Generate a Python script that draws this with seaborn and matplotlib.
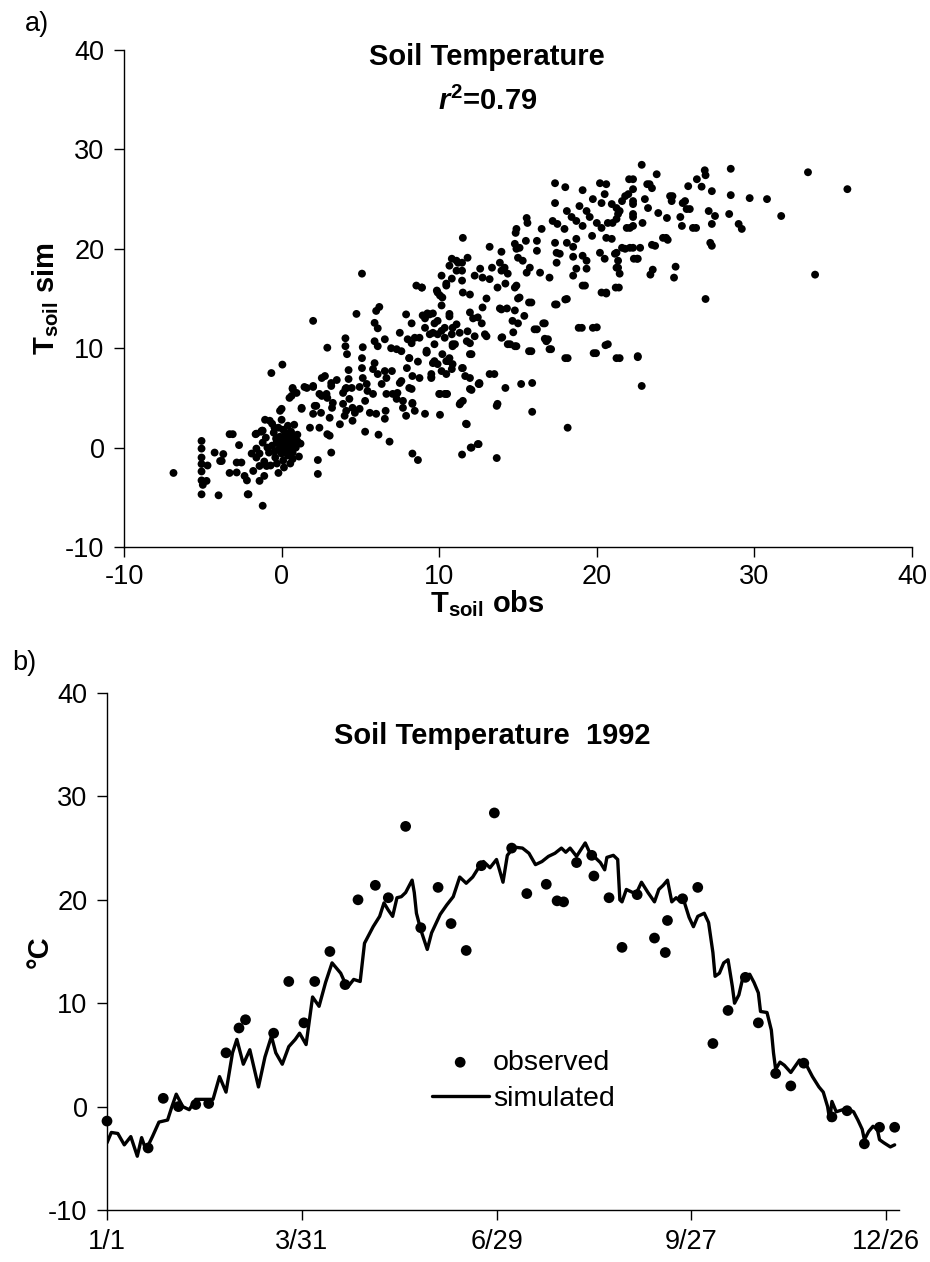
import matplotlib
matplotlib.use("Agg")
import matplotlib.pyplot as plt
import numpy as np
import pandas as pd
import seaborn as sns

# ---------------- Panel a) data: (T_soil obs, T_soil sim) pairs ----------------
pts_low_left = [
    (-6.86, -2.55), (-5.08, 0.67), (-5.08, -0.1), (-5.08, -1.0), (-5.08, -1.65), (-5.08, -2.4),
    (-5.08, -3.3), (-5.0, -3.75), (-5.08, -4.7), (-4.76, -3.35), (-4.7, -1.8), (-4.25, -0.5),
    (-3.9, -1.35), (-3.7, -0.65), (-4.0, -4.8), (-3.3, 1.35), (-2.7, 0.25), (-3.3, -2.55),
    (-2.85, -1.5), (-2.55, -1.5), (-2.85, -2.5), (-2.15, -4.7), (-2.35, -2.85), (-2.2, -3.3),
    (-1.9, -0.6), (-1.65, 1.35), (-1.6, -0.1), (-1.4, -1.85), (-1.4, -3.35), (-1.2, -5.85),
    (-1.8, -2.35), (-1.1, -2.85), (-0.95, -1.85), (-1.25, 1.7), (-1.05, 2.8), (-0.75, 2.7),
    (-0.45, 2.0), (-0.2, -2.55), (-0.1, 3.7), (0.5, -0.5), (0.7, -1.15), (1.0, 0.65), (1.27, 3.9),
    (2.3, -1.25), (2.3, -2.65), (3.15, -0.5), (2.9, 1.35), (1.8, 2.0), (2.4, 2.0), (3.05, 3.0),
    (3.05, 1.2), (3.7, 2.35), (2.0, 3.4), (2.2, 4.2), (2.5, 3.5), (-3.8, -1.35), (-3.1, 1.35),
    (-2.1, -4.7), (-1.6, 1.4), (-1.2, 1.7),
]

pts_cluster = [
    (-1.2, 0.5), (-1.0, 1.0), (-0.8, -0.5), (-0.6, 0.2), (-0.5, 1.5), (-0.4, -1.0), (-0.3, 0.6),
    (-0.2, -0.2), (-0.1, 1.1), (0.0, 0.0), (0.0, -0.6), (0.0, 0.8), (0.1, 1.8), (0.1, -1.3),
    (0.2, 0.3), (0.2, -0.3), (0.3, 1.2), (0.3, 0.6), (0.4, -0.8), (0.4, 0.1), (0.5, 0.9),
    (0.5, -0.1), (0.6, 1.6), (0.6, 0.4), (0.7, -0.5), (0.8, 0.8), (0.8, 2.3), (0.9, 0.0),
    (1.0, 1.3), (1.1, -0.9), (-0.9, 0.0), (-1.4, -0.6), (-1.1, -1.4), (-0.7, -1.8), (-0.3, -1.6),
    (-0.2, 2.0), (-0.6, 2.4), (0.0, 2.8), (0.4, 2.2), (-1.3, 1.6), (0.15, -2.0), (-0.45, -0.4),
    (0.25, 1.5), (0.7, 1.1), (-0.15, 0.35), (0.05, -0.25), (-0.35, 0.9), (0.55, -1.6), (1.2, 0.4),
    (-1.6, -1.0),
]

pts_band_low = [
    (0.63, 5.2), (0.95, 5.5), (0.7, 6.0), (1.6, 6.0), (2.0, 6.2), (2.4, 5.4), (2.85, 5.4),
    (3.15, 6.5), (3.25, 4.5), (3.9, 5.5), (4.1, 3.7), (4.45, 6.0), (4.65, 3.5), (4.0, 3.2),
    (4.5, 2.7), (4.5, 4.0), (4.95, 3.9), (5.3, 4.7), (5.6, 3.5), (6.0, 3.4), (6.6, 3.7),
    (6.55, 2.9), (7.05, 5.4), (7.7, 4.0), (7.9, 3.2), (8.3, 4.5), (8.45, 3.7), (7.5, 6.5),
    (8.1, 6.0), (6.65, 5.4), (5.8, 5.4), (4.1, 6.0), (5.4, 6.4), (5.3, 1.6), (6.15, 1.3),
    (6.85, 0.6), (8.3, -0.6), (8.65, -1.25), (9.1, 3.4), (10.05, 3.3), (10.05, 5.4), (10.5, 5.4),
    (11.45, -0.7), (12.05, 0.0), (12.5, 0.35), (13.65, -1.05), (11.75, 2.35), (11.3, 4.35),
    (11.5, 4.7), (12.05, 5.8), (12.55, 6.5), (13.65, 4.2), (0.0, 3.9), (1.27, 4.0), (2.1, 4.2),
    (3.2, 4.0), (3.9, 4.4), (4.3, 4.9),
]

pts_band_mid = [
    (5.1, 17.5), (2.0, 12.75), (4.75, 13.45), (2.9, 10.05), (-0.65, 7.5), (0.05, 8.35), (0.7, 5.9),
    (0.5, 5.0), (1.45, 6.1), (2.0, 6.1), (2.55, 7.0), (2.75, 7.2), (3.5, 6.8), (3.15, 6.2),
    (2.55, 5.2), (2.9, 5.0), (4.25, 7.8), (4.25, 6.9), (4.05, 5.9), (4.05, 11.0), (4.05, 10.2),
    (4.15, 9.4), (5.15, 10.1), (5.1, 9.0), (5.1, 8.0), (5.15, 7.0), (4.95, 6.1), (5.45, 5.7),
    (6.0, 13.75), (6.2, 14.15), (5.9, 12.55), (6.1, 12.0), (5.9, 10.7), (6.1, 10.2), (6.55, 10.9),
    (5.9, 8.5), (5.8, 7.9), (6.1, 7.4), (6.55, 7.7), (7.0, 7.7), (6.65, 7.0), (6.35, 6.4),
    (6.95, 10.0), (7.3, 9.9), (7.6, 9.7), (7.5, 11.55), (7.9, 13.4), (8.25, 12.5), (8.55, 16.3),
    (8.9, 16.1), (10.15, 17.3), (10.45, 16.3), (10.8, 17.0), (9.85, 15.8), (10.05, 15.3),
    (10.15, 14.3), (8.95, 13.3), (9.25, 13.5), (9.6, 13.5), (9.9, 12.75), (9.1, 12.05),
    (9.6, 11.55), (10.15, 11.75), (10.35, 11.05), (10.65, 13.45), (10.85, 12.05), (8.0, 10.9),
    (8.25, 10.5), (8.45, 11.05), (8.75, 11.05), (8.1, 9.0), (8.65, 8.65), (9.2, 9.6), (9.7, 8.7),
    (9.9, 8.4), (10.45, 8.7), (10.65, 9.0), (10.15, 7.7), (10.8, 7.9), (10.85, 10.4), (7.95, 8.0),
    (8.3, 7.2), (7.6, 6.7), (8.25, 5.9), (7.35, 5.5), (7.3, 4.9), (7.7, 4.7), (8.3, 4.4),
    (9.5, 7.0), (10.0, 5.4), (10.45, 5.4), (10.65, 18.3), (11.1, 17.8), (11.2, 18.6),
]

pts_band_upper = [
    (17.35, 26.6), (18.0, 26.2), (19.1, 25.9), (20.2, 26.6), (20.6, 26.5), (20.5, 25.5),
    (19.75, 25.0), (20.3, 24.6), (20.95, 24.5), (21.6, 24.8), (22.0, 25.5), (22.3, 27.0),
    (22.3, 24.5), (17.35, 24.6), (18.9, 24.3), (19.35, 23.8), (18.1, 23.8), (18.4, 23.2),
    (18.7, 22.8), (19.1, 22.3), (19.55, 23.2), (20.0, 22.6), (20.3, 22.1), (20.7, 22.6),
    (21.25, 23.0), (21.45, 23.8), (21.9, 22.1), (22.3, 22.3), (17.2, 22.8), (17.5, 22.5),
    (17.95, 22.0), (19.7, 21.3), (20.6, 21.1), (20.95, 21.0), (15.55, 23.1), (15.6, 22.6),
    (16.5, 22.0), (14.9, 22.0), (14.85, 21.6), (11.5, 21.1), (13.2, 20.2), (13.95, 19.7),
    (14.8, 20.5), (15.1, 20.1), (15.5, 20.8), (16.2, 20.8), (16.2, 19.8), (17.35, 20.6),
    (17.45, 19.6), (18.1, 20.6), (18.7, 21.0), (18.5, 20.2), (20.2, 19.6), (20.5, 19.0),
    (19.1, 19.3), (19.35, 18.8), (21.25, 19.6), (21.8, 20.0), (22.3, 20.1), (22.55, 19.0),
    (21.35, 18.8), (21.35, 18.1), (21.45, 17.5), (14.9, 20.0), (15.0, 19.1), (15.3, 18.8),
    (15.75, 18.1), (16.4, 17.6), (15.55, 17.6), (17.0, 17.1), (17.45, 18.6), (17.65, 19.5),
    (18.5, 19.2), (18.7, 18.0), (18.5, 17.3), (19.35, 18.0), (19.25, 16.3), (20.3, 15.6),
    (20.6, 15.6), (21.4, 16.1), (13.85, 18.6), (13.95, 17.8), (14.15, 18.1), (14.35, 17.5),
    (13.7, 16.1), (14.2, 16.5), (13.35, 18.1), (12.6, 18.0), (12.25, 17.3), (12.75, 17.1),
    (13.2, 16.95), (11.8, 19.1), (11.45, 18.6), (10.8, 19.0), (11.1, 18.8), (11.45, 17.8),
    (10.45, 16.5), (11.45, 16.8), (11.5, 15.6), (11.95, 15.4), (9.9, 15.6), (10.2, 15.1),
    (8.9, 16.1), (9.4, 13.4), (9.1, 13.0), (9.7, 12.5), (10.65, 13.2), (11.1, 12.4),
    (10.35, 12.05), (9.4, 11.4), (9.9, 11.4), (10.8, 11.4), (11.3, 11.55), (11.8, 11.7),
    (12.25, 11.2), (11.95, 13.6), (12.15, 13.0), (12.45, 13.1), (12.7, 12.5), (12.75, 14.1),
    (13.0, 15.0), (13.0, 11.2), (11.95, 10.5), (11.0, 10.4), (9.7, 10.4), (9.2, 9.55),
    (10.2, 9.4), (10.55, 8.7), (10.85, 8.4), (11.5, 8.0), (12.05, 9.4), (9.6, 8.5),
    (13.85, 14.0), (14.3, 14.0), (14.8, 13.8), (15.1, 15.1), (14.9, 16.3), (15.0, 12.5),
    (14.7, 11.6), (15.4, 13.25), (15.85, 14.6), (14.0, 11.1), (14.5, 10.4), (14.9, 10.2),
    (15.85, 9.7), (16.2, 11.9), (16.7, 12.5), (16.9, 10.9), (17.1, 9.9), (17.45, 14.4),
    (18.1, 14.95), (18.15, 9.0), (19.05, 12.05), (20.0, 12.1), (19.95, 9.5), (20.7, 10.4),
    (21.45, 9.0), (22.6, 9.2), (8.75, 7.0), (9.5, 7.4), (10.45, 7.4),
]

pts_right = [
    (22.85, 28.45), (23.8, 27.5), (26.85, 27.9), (26.9, 27.4), (26.65, 26.25), (26.35, 27.0),
    (25.8, 26.3), (27.3, 25.8), (27.1, 23.8), (27.5, 23.3), (27.3, 22.5), (27.2, 20.6),
    (27.3, 20.3), (28.5, 28.05), (28.5, 25.4), (28.4, 23.5), (29.0, 22.5), (29.2, 22.0),
    (29.7, 25.1), (30.8, 25.0), (31.7, 23.3), (33.4, 27.7), (35.9, 26.0), (33.85, 17.4),
    (26.9, 14.95), (25.0, 18.2), (24.9, 17.1), (23.55, 17.9), (23.4, 17.4), (22.05, 27.0),
    (23.2, 26.5), (23.5, 26.1), (22.3, 26.0), (21.8, 25.3), (23.05, 25.0), (23.25, 24.1),
    (22.3, 24.8), (22.3, 23.5), (22.1, 22.1), (22.9, 22.6), (21.25, 24.1), (21.35, 23.5),
    (21.0, 22.6), (24.65, 25.3), (24.75, 24.8), (23.9, 23.6), (24.45, 23.1), (24.2, 21.1),
    (24.5, 20.9), (25.45, 24.6), (25.7, 24.0), (25.3, 23.2), (25.4, 22.3), (26.1, 22.1),
    (23.5, 20.4), (22.75, 20.1), (22.1, 20.1), (21.6, 20.1), (22.35, 19.0), (22.85, 6.2),
    (22.6, 9.1), (21.25, 9.0), (20.55, 10.3), (19.8, 9.5), (19.75, 12.05), (18.85, 12.05),
    (18.0, 9.0), (18.15, 2.0), (15.9, 3.6), (15.9, 6.5), (15.2, 6.4), (14.2, 6.0), (13.7, 4.4),
    (12.45, 0.35), (12.0, 0.0), (11.7, 2.4), (11.35, 4.5), (11.95, 5.9), (12.55, 6.4),
    (15.7, 9.7), (17.0, 9.9), (16.8, 10.7), (21.2, 16.1), (19.1, 16.3), (18.0, 14.9),
    (17.35, 14.4), (15.7, 14.6), (14.8, 16.1), (15.0, 15.0), (13.95, 13.9), (14.65, 12.75),
    (13.95, 11.05), (14.35, 10.4), (14.8, 10.2), (16.6, 12.5), (16.05, 11.9), (16.7, 10.95),
    (11.95, 9.4), (12.9, 11.4), (11.75, 10.7), (10.85, 10.2), (9.2, 9.75), (11.45, 8.0),
    (11.65, 7.2), (11.95, 7.0), (12.5, 6.4), (13.2, 7.4), (13.5, 7.4), (9.5, 7.1), (10.35, 5.4),
    (8.1, 9.0), (24.8, 25.3), (25.6, 24.8), (25.9, 24.0), (26.3, 22.1), (24.4, 21.1),
    (23.7, 20.3), (21.15, 19.5), (21.25, 18.1), (20.6, 15.5), (22.6, 19.0), (22.3, 23.2),
    (23.35, 26.5),
]

# ---------------- Panel b) data: 1992 daily series (day of year from 1/1) ----------------
sim_day = [0, 2, 5, 8, 11, 14, 16, 18, 21, 24, 28, 30, 32, 35, 38, 41, 45, 49, 52, 55, 58, 60,
           63, 66, 70, 73, 76, 78, 81, 84, 87, 89, 92, 95, 98, 101, 104, 108, 111, 114, 117, 119,
           123, 126, 128, 130, 132, 134, 136, 138, 141, 142, 143, 145, 148, 150, 154, 157, 160,
           163, 166, 169, 172, 174, 177, 180, 183, 185, 188, 192, 195, 198, 201, 204, 207, 210,
           212, 214, 217, 221, 223, 225, 228, 230, 231, 234, 236, 237, 238, 240, 243, 245, 247,
           250, 253, 255, 257, 259, 261, 263, 265, 266, 269, 271, 273, 276, 278, 280, 281, 283,
           285, 287, 289, 290, 292, 294, 297, 299, 301, 302, 305, 307, 308, 309, 311, 313, 316,
           318, 320, 323, 326, 329, 331, 333, 334, 335, 337, 340, 343, 345, 347, 349, 350, 352,
           354, 356, 357, 359, 362, 364]
sim_val = [-3.5, -2.5, -2.6, -3.7, -2.9, -4.8, -3.0, -4.2, -2.9, -1.5, -1.3, 0.0, 1.2, 0.0, -0.3,
           0.7, 0.7, 0.7, 2.9, 1.4, 5.2, 6.5, 4.1, 5.5, 1.9, 4.8, 6.8, 5.2, 4.1, 5.8, 6.5, 7.1, 6.0,
           10.6, 9.7, 12.0, 13.9, 12.9, 11.5, 12.3, 12.1, 15.8, 17.4, 18.4, 19.7, 19.0, 18.4, 20.2,
           20.3, 20.7, 21.9, 20.7, 18.7, 17.1, 15.2, 16.8, 18.6, 19.5, 20.3, 22.2, 21.6, 22.2, 23.2,
           23.7, 23.1, 23.9, 21.7, 24.3, 25.1, 25.0, 24.5, 23.4, 23.7, 24.2, 24.5, 25.0, 24.6, 25.0,
           24.2, 25.5, 24.6, 24.2, 23.6, 22.9, 24.1, 24.3, 23.9, 20.0, 19.8, 21.0, 20.7, 20.8, 21.7,
           20.7, 19.8, 21.0, 21.4, 21.9, 19.8, 20.2, 19.8, 20.3, 18.3, 17.4, 18.4, 18.7, 17.8, 14.9,
           12.6, 12.9, 13.9, 14.2, 11.6, 10.0, 10.8, 12.6, 12.8, 12.0, 11.0, 9.2, 9.1, 7.4, 5.2, 3.6,
           4.3, 4.0, 3.3, 3.9, 4.5, 4.1, 2.9, 1.9, 1.4, 0.0, -1.3, 0.5, -0.5, -0.3, -0.3, -0.5, -1.3,
           -2.2, -3.2, -2.4, -1.9, -2.2, -3.2, -3.5, -3.9, -3.7]

obs_day = [0, 19, 26, 33, 41, 47, 55, 61, 64, 77, 84, 91, 96, 103, 110, 116, 124, 130, 138, 145,
           153, 159, 166, 173, 179, 187, 194, 203, 208, 211, 217, 224, 225, 232, 238, 245, 253,
           258, 259, 266, 273, 280, 287, 295, 301, 309, 316, 322, 335, 342, 350, 357, 364]
obs_val = [-1.4, -4.0, 0.8, 0.0, 0.2, 0.3, 5.2, 7.6, 8.4, 7.1, 12.1, 8.1, 12.1, 15.0, 11.8, 20.0,
           21.4, 20.2, 27.1, 17.3, 21.2, 17.7, 15.1, 23.3, 28.4, 25.0, 20.6, 21.5, 19.9, 19.8, 23.6,
           24.3, 22.3, 20.2, 15.4, 20.5, 16.3, 14.9, 18.0, 20.1, 21.2, 6.1, 9.3, 12.5, 8.1, 3.2,
           2.0, 4.2, -1.0, -0.4, -3.6, -2.0, -2.0]

temp_ticks = [-10, 0, 10, 20, 30, 40]
date_ticks = [0, 90, 180, 270, 360]
date_labels = ["1/1", "3/31", "6/29", "9/27", "12/26"]

# ---------------- style ----------------
sns.set_theme(style="ticks")
plt.rcParams["font.family"] = ["Liberation Sans", "DejaVu Sans"]
plt.rcParams["mathtext.fontset"] = "custom"
plt.rcParams["mathtext.rm"] = "Liberation Sans"
plt.rcParams["mathtext.it"] = "Liberation Sans:italic:bold"
plt.rcParams["mathtext.bf"] = "Liberation Sans:bold"
plt.rcParams["axes.unicode_minus"] = False
plt.rcParams["text.color"] = "black"
plt.rcParams["axes.labelcolor"] = "black"
plt.rcParams["xtick.color"] = "black"
plt.rcParams["ytick.color"] = "black"

TICK_FS = 19.5
LAB_FS = 21

fig = plt.figure(figsize=(9.3, 12.62), dpi=100)
ax1 = fig.add_axes([124 / 930, 1 - 547 / 1262, 788 / 930, 497 / 1262])
ax2 = fig.add_axes([107 / 930, 1 - 1210 / 1262, 792 / 930, 517 / 1262])

# ---------------- panel a ----------------
all_pts = pts_low_left + pts_cluster + pts_band_low + pts_band_mid + pts_band_upper + pts_right
df_a = pd.DataFrame(all_pts, columns=["obs", "sim"])
sns.scatterplot(data=df_a, x="obs", y="sim", ax=ax1, color="black", s=32,
                edgecolor="none", linewidth=0, legend=False)
ax1.set_xlim(-10, 40)
ax1.set_ylim(-10, 40)
ax1.set_xticks(temp_ticks)
ax1.set_yticks(temp_ticks)
ax1.set_xlabel(r"T$_{\mathbf{soil}}$ obs", fontsize=LAB_FS, fontweight="bold")
ax1.set_ylabel(r"T$_{\mathbf{soil}}$ sim", fontsize=LAB_FS, fontweight="bold")
ax1.xaxis.set_label_coords(0.461, -0.113)
ax1.xaxis.label.set_va("center")
ax1.yaxis.set_label_coords(-0.099, 0.5)
ax1.yaxis.label.set_va("center")
ax1.text(0.461, 0.970, "Soil Temperature", transform=ax1.transAxes, ha="center",
         va="baseline", fontsize=LAB_FS, fontweight="bold")
ax1.text(0.461, 0.879, r"$\mathit{r}^{\mathbf{2}}$=0.79", transform=ax1.transAxes, ha="center",
         va="baseline", fontsize=LAB_FS, fontweight="bold")

# ---------------- panel b ----------------
df_sim = pd.DataFrame({"day": sim_day, "val": sim_val})
df_obs = pd.DataFrame({"day": obs_day, "val": obs_val})
sns.scatterplot(data=df_obs, x="day", y="val", ax=ax2, color="black", s=60,
                edgecolor="none", linewidth=0, label="observed", legend=False,
                clip_on=False, zorder=3)
sns.lineplot(data=df_sim, x="day", y="val", ax=ax2, color="black", linewidth=2.4,
             label="simulated", legend=False)
ax2.set_xlim(0, 366)
ax2.set_ylim(-10, 40)
ax2.set_xticks(date_ticks)
ax2.set_xticklabels(date_labels)
ax2.set_yticks(temp_ticks)
ax2.set_xlabel("")
ax2.set_ylabel("°C", fontsize=LAB_FS, fontweight="bold")
ax2.yaxis.set_label_coords(-0.085, 0.5)
ax2.yaxis.label.set_va("center")
ax2.text(0.487, 0.901, "Soil Temperature  1992", transform=ax2.transAxes, ha="center",
         va="baseline", fontsize=LAB_FS, fontweight="bold")

h, l = ax2.get_legend_handles_labels()
order = [l.index("observed"), l.index("simulated")]
ax2.legend([h[i] for i in order], [l[i] for i in order], loc="upper left",
           bbox_to_anchor=(0.41, 0.31), frameon=False, fontsize=20.5,
           handlelength=2.0, handletextpad=0.15, labelspacing=0.35,
           borderpad=0, borderaxespad=0)

for ax in (ax1, ax2):
    sns.despine(ax=ax)
    for s in ("left", "bottom"):
        ax.spines[s].set_linewidth(1.0)
        ax.spines[s].set_color("black")
    ax.tick_params(direction="out", length=7, width=1.0, colors="black",
                   labelsize=TICK_FS, pad=7)
ax1.tick_params(axis="x", pad=5)

fig.text(25 / 930, 1 - 24 / 1262, "a)", fontsize=TICK_FS, ha="left", va="center")
fig.text(12 / 930, 1 - 663 / 1262, "b)", fontsize=TICK_FS, ha="left", va="center")

fig.savefig("out.png", dpi=100, facecolor="white")
